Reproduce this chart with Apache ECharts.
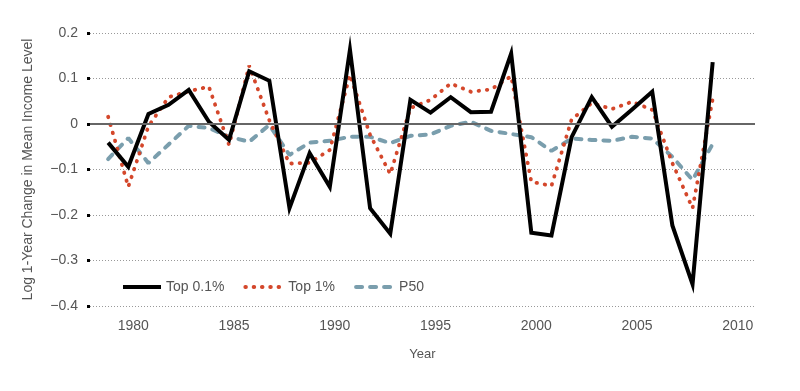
<!DOCTYPE html>
<html>
<head>
<meta charset="utf-8">
<script src="https://cdn.jsdelivr.net/npm/echarts@6/dist/echarts.min.js"></script>
<style>html,body{margin:0;padding:0;background:#fff}#c{width:800px;height:391px}</style>
</head>
<body>
<div id="c"></div>
<script>
const years = [1979,1980,1981,1982,1983,1984,1985,1986,1987,1988,1989,1990,1991,1992,1993,1994,1995,1996,1997,1998,1999,2000,2001,2002,2003,2004,2005,2006,2007,2008,2009];
const top01 = [-0.041,-0.094,0.022,0.042,0.075,0.005,-0.035,0.116,0.095,-0.185,-0.064,-0.138,0.163,-0.185,-0.241,0.053,0.025,0.059,0.026,0.027,0.155,-0.239,-0.245,-0.029,0.059,-0.006,0.032,0.071,-0.223,-0.352,0.136];
const top1 = [0.016,-0.138,-0.005,0.059,0.072,0.082,-0.046,0.128,0.008,-0.087,-0.085,-0.057,0.108,-0.024,-0.110,0.035,0.053,0.089,0.071,0.076,0.105,-0.127,-0.136,0.010,0.046,0.033,0.049,0.031,-0.086,-0.185,0.055];
const p50 = [-0.077,-0.031,-0.086,-0.045,-0.004,-0.009,-0.028,-0.039,-0.002,-0.068,-0.041,-0.037,-0.028,-0.028,-0.042,-0.026,-0.023,-0.004,0.005,-0.015,-0.022,-0.029,-0.059,-0.032,-0.035,-0.037,-0.028,-0.032,-0.072,-0.123,-0.044];
const seriesNames = ['Top 0.1%','Top 1%','P50'];
const yTicks = [-0.4,-0.3,-0.2,-0.1,0,0.1,0.2];

const pairs = arr => years.map((y,i)=>[y,arr[i]]);
const FONT = '"Liberation Sans", Arial, sans-serif';
const chart = echarts.init(document.getElementById('c'), null, {renderer:'canvas'});
chart.setOption({
  animation:false,
  backgroundColor:'#fff',
  textStyle:{fontFamily:FONT},
  grid:{left:90,right:45,top:33,bottom:85},
  legend:{
    left:121, top:280, padding:0, itemWidth:38, itemHeight:12, itemGap:19,
    data:seriesNames,
    itemStyle:{opacity:0},
    lineStyle:{width:4},
    textStyle:{fontFamily:FONT,fontSize:14,color:'#555',width:60}
  },
  xAxis:{
    type:'value', min:1978.1, max:2011.1, splitNumber:7,
    name:'Year', nameLocation:'middle', nameGap:42,
    nameTextStyle:{fontFamily:FONT,fontSize:13,color:'#555'},
    axisLine:{show:false}, axisTick:{show:false}, splitLine:{show:false},
    axisLabel:{showMinLabel:false,showMaxLabel:false,fontFamily:FONT,fontSize:14,color:'#555',margin:13,padding:[0,0,0,10],
      formatter:v=>String(Math.round(v))}
  },
  yAxis:{
    type:'value', min:yTicks[0], max:yTicks[yTicks.length-1], interval:0.1,
    name:'Log 1-Year Change in Mean Income Level', nameLocation:'middle', nameGap:55,
    nameTextStyle:{fontFamily:FONT,fontSize:14,color:'#555'},
    axisLine:{show:false},
    axisTick:{show:true,length:3,lineStyle:{color:'#000',width:3}},
    splitLine:{show:true,lineStyle:{color:'#999',type:[1,2],width:1}},
    axisLabel:{fontFamily:FONT,fontSize:14,color:'#555',margin:12,
      formatter:v=>{const r=Math.round(v*10)/10; return r===0?'0':String(r).replace('-','\u2212');}}
  },
  series:[
    {name:'P50', type:'line', data:pairs(p50), showSymbol:false, symbol:'none',
     lineStyle:{color:'#7a9ead',width:4,type:[6,8],cap:'round'}, itemStyle:{color:'#7a9ead'},
     markLine:{silent:true,symbol:'none',label:{show:false},lineStyle:{color:'#666',type:'solid',width:2},data:[{yAxis:0}]}},
    {name:'Top 1%', type:'line', data:pairs(top1), showSymbol:false, symbol:'none',
     lineStyle:{color:'#d4472b',width:3.8,type:[0.5,7.8],cap:'round'}, itemStyle:{color:'#d4472b'}},
    {name:'Top 0.1%', type:'line', data:pairs(top01), showSymbol:false, symbol:'none',
     lineStyle:{color:'#000',width:4,type:'solid',join:'miter'}, itemStyle:{color:'#000'}}
  ]
});
</script>
</body>
</html>
